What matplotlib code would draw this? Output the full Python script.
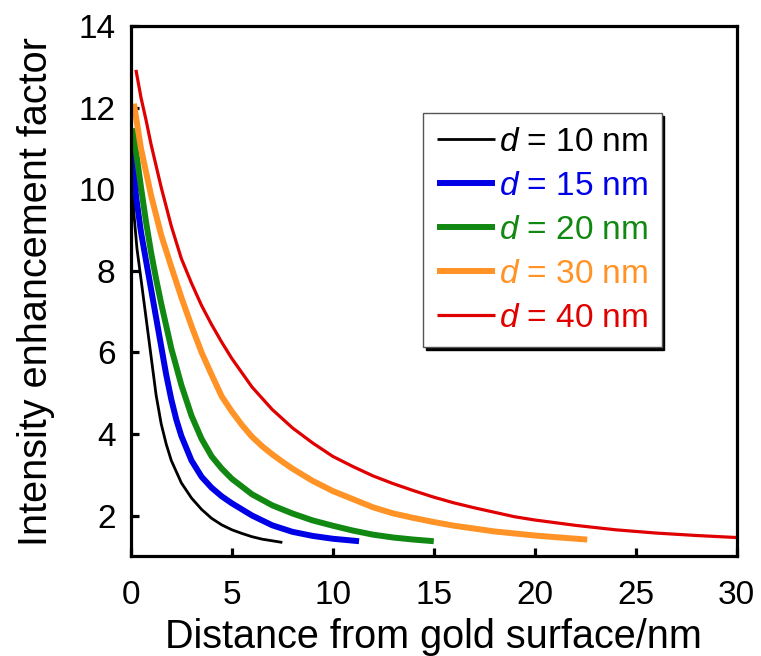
import matplotlib
matplotlib.use("Agg")
import matplotlib.pyplot as plt

plt.rcParams['font.family'] = ['Liberation Sans', 'DejaVu Sans']
plt.rcParams['mathtext.fontset'] = 'custom'
plt.rcParams['mathtext.it'] = 'Liberation Sans:italic'
plt.rcParams['mathtext.rm'] = 'Liberation Sans'

# data (distance in nm, enhancement factor)
x_d10 = [0.05, 0.15, 0.3, 0.5, 0.75, 1.0, 1.25, 1.5, 1.75, 2.0, 2.5, 3.0, 3.5,
         4.0, 4.5, 5.0, 5.5, 6.0, 6.5, 7.0, 7.5]
y_d10 = [10.4, 9.4, 8.55, 7.8, 6.85, 5.9, 4.95, 4.25, 3.75, 3.35, 2.8, 2.43, 2.15,
         1.93, 1.77, 1.65, 1.56, 1.48, 1.42, 1.38, 1.34]

x_d15 = [0.1, 0.25, 0.5, 0.75, 1.0, 1.25, 1.5, 1.75, 2.0, 2.25, 2.5, 3.0, 3.5,
         4.0, 4.5, 5.0, 6.0, 7.0, 8.0, 9.0, 10.0, 11.3]
y_d15 = [11.0, 9.85, 8.95, 8.25, 7.55, 6.85, 6.15, 5.45, 4.85, 4.35, 3.95, 3.35, 2.95,
         2.68, 2.47, 2.3, 2.0, 1.76, 1.6, 1.5, 1.43, 1.37]

x_d20 = [0.13, 0.25, 0.5, 0.75, 1.0, 1.25, 1.5, 1.75, 2.0, 2.5, 3.0, 3.5, 4.0,
         4.5, 5.0, 6.0, 7.0, 8.0, 9.0, 10.0, 11.0, 12.0, 13.0, 14.0, 15.0]
y_d20 = [11.5, 10.95, 10.05, 9.2, 8.45, 7.8, 7.2, 6.65, 6.1, 5.2, 4.45, 3.88, 3.45,
         3.15, 2.9, 2.52, 2.25, 2.05, 1.88, 1.75, 1.63, 1.53, 1.46, 1.41, 1.37]

x_d30 = [0.15, 0.5, 1.0, 1.5, 2.0, 2.5, 3.0, 3.5, 4.0, 4.5, 5.0, 5.5, 6.0, 6.5,
         7.0, 7.5, 8.0, 9.0, 10.0, 11.0, 12.0, 13.0, 14.0, 15.0, 16.0, 17.0,
         18.0, 19.0, 20.0, 21.0, 22.6]
y_d30 = [12.1, 11.0, 9.85, 8.88, 8.1, 7.35, 6.65, 6.0, 5.45, 4.92, 4.55, 4.22, 3.93, 3.7,
         3.5, 3.32, 3.15, 2.85, 2.6, 2.4, 2.2, 2.05, 1.94, 1.84, 1.75, 1.68,
         1.61, 1.56, 1.51, 1.47, 1.41]

x_d40 = [0.25, 0.5, 0.75, 1.0, 1.5, 2.0, 2.5, 3.0, 3.5, 4.0, 4.5, 5.0, 6.0, 7.0,
         8.0, 9.0, 10.0, 11.0, 12.0, 13.0, 14.0, 15.0, 16.0, 17.0, 18.0, 19.0,
         20.0, 22.0, 24.0, 26.0, 28.0, 30.0]
y_d40 = [12.93, 12.25, 11.7, 11.1, 10.05, 9.1, 8.3, 7.7, 7.15, 6.68, 6.25, 5.85, 5.15, 4.6,
         4.15, 3.78, 3.45, 3.2, 2.97, 2.78, 2.61, 2.45, 2.31, 2.19, 2.08, 1.97,
         1.89, 1.76, 1.65, 1.57, 1.51, 1.46]

labels = [r'$\mathit{d}$ = 10 nm', r'$\mathit{d}$ = 15 nm', r'$\mathit{d}$ = 20 nm',
          r'$\mathit{d}$ = 30 nm', r'$\mathit{d}$ = 40 nm']
colors = ['black', '#0000e6', '#118811', '#ff9326', '#e00000']
widths = [2.0, 4.3, 4.3, 4.3, 2.3]

xs = [x_d10, x_d15, x_d20, x_d30, x_d40]
ys = [y_d10, y_d15, y_d20, y_d30, y_d40]

fig = plt.figure(figsize=(7.61, 6.56), dpi=100)
ax = fig.add_axes([0.172, 0.152, 0.796, 0.808])

for x, y, lab, c, w in zip(xs, ys, labels, colors, widths):
    ax.plot(x, y, color=c, lw=w, label=lab, solid_capstyle='butt')

ax.set_xlim(0, 30)
ax.set_ylim(1, 14)
ax.set_xticks(range(0, 31, 5))
ax.set_yticks(range(2, 15, 2))

for s in ax.spines.values():
    s.set_linewidth(2.3)
ax.tick_params(direction='in', length=6, width=2.3, labelsize=24)
ax.tick_params(axis='x', pad=17)
ax.tick_params(axis='y', pad=11)

ax.set_xlabel('Distance from gold surface/nm', fontsize=28.5, labelpad=5)
ax.set_ylabel('Intensity enhancement factor', fontsize=28.5, labelpad=17)

leg = ax.legend(loc='upper left', bbox_to_anchor=(0.483, 0.836), borderaxespad=0,
                fontsize=24, labelcolor='linecolor', handlelength=1.75,
                handletextpad=0.12, labelspacing=0.39, borderpad=0.4,
                fancybox=False, framealpha=1, edgecolor='#555555',
                shadow={'color': 'black', 'alpha': 1})
leg.get_frame().set_linewidth(1.0)

fig.savefig('out.png', dpi=100)
